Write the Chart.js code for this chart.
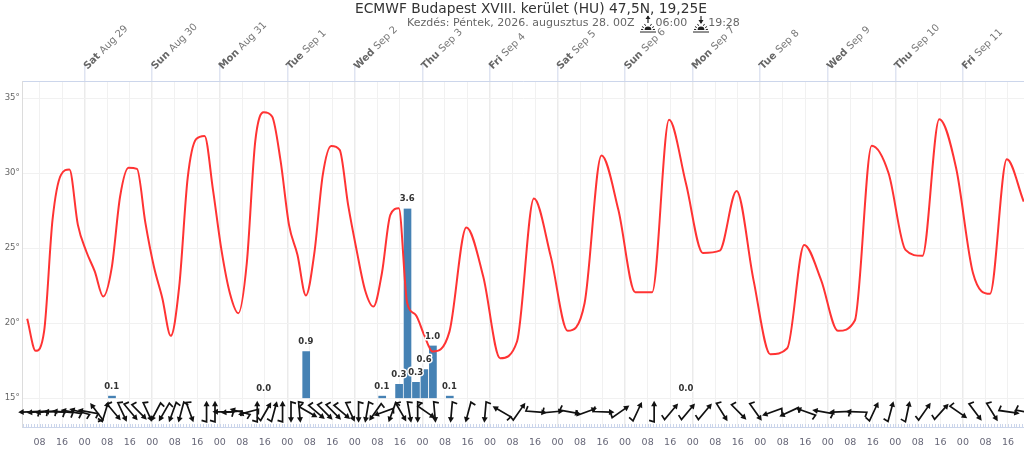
<!DOCTYPE html>
<html><head><meta charset="utf-8">
<style>html,body{margin:0;padding:0;background:#fff;overflow:hidden}canvas{display:block}</style>
<script src="https://cdn.jsdelivr.net/npm/chart.js@4/dist/chart.umd.min.js"></script>
</head><body><canvas id="c" width="1024" height="454"></canvas>
<script>
const titleText = "ECMWF Budapest XVIII. kerület (HU) 47,5N, 19,25E";
const subtitleText = "Kezdés: Péntek, 2026. augusztus 28. 00Z      06:00      19:28";
// hours relative to Sat Aug 29 00:00 local
const tempHours = [-20.4,-17.4,-14.4,-11.4,-8.4,-5.4,-2.4,0.6,3.6,6.6,9.6,12.6,15.6,18.6,21.6,24.6,27.6,30.6,33.6,36.6,39.6,42.6,45.6,48.6,51.6,54.6,57.6,60.6,63.6,66.6,69.6,72.6,75.6,78.6,81.6,84.6,87.6,90.6,93.6,96.6,99.6,102.6,105.6,108.6,111.6,114.6,117.6,120.6,123.6,
129.6,135.6,141.6,147.6,153.6,159.6,165.6,171.6,177.6,183.6,189.6,195.6,201.6,207.6,213.6,219.6,225.6,231.6,237.6,243.6,249.6,255.6,261.6,267.6,273.6,279.6,285.6,291.6,297.6,303.6,309.6,315.6,321.6,327.6,333.6];
const temps = [20.29,18.16,19.45,26.9,29.89,30.25,26.56,24.78,23.45,21.78,23.67,28.45,30.36,30.29,26.67,23.78,21.67,19.16,22.45,29.67,32.27,32.49,28.89,24.89,22.0,20.67,24.0,32.11,34.07,33.78,30.84,26.56,24.56,21.85,24.67,29.89,31.82,31.56,27.89,24.89,22.22,21.11,23.33,27.22,27.67,21.33,20.56,19.22,18.11,
19.44,26.38,23.11,17.67,18.78,28.31,24.44,19.49,21.33,31.18,27.56,22.07,22.07,33.56,29.33,24.69,24.84,28.82,22.89,17.93,18.33,25.22,22.89,19.49,20.18,31.84,30.0,24.89,24.49,33.6,30.33,23.33,21.96,30.93,28.11];
const rainHours = [9.6,63.6,78.6,105.6,111.6,114.6,117.6,120.6,123.6,129.6,213.6];
const rainMm = [0.05,0.0,0.89,0.05,0.27,3.6,0.31,0.55,1.0,0.05,0.0];
// direction each arrow points, degrees clockwise from north; null = no arrow drawn
const windHeading = [268,265,265,272,275,280,285,280,323,17,140,155,140,135,155,208,210,200,195,160,null,0,0,270,265,285,255,0,30,15,0,180,175,120,130,135,135,130,155,180,190,215,250,200,150,170,180,125,175,
185,195,185,300,35,95,85,100,70,92,55,25,0,40,40,40,148,135,145,250,245,290,280,268,272,25,15,12,35,42,125,143,148,98,100];
const windLevel = 14.09;
const dayHours = [0,24,48,72,96,120,144,168,192,216,240,264,288,312];
const dayNames = ["Sat","Sun","Mon","Tue","Wed","Thu","Fri","Sat","Sun","Mon","Tue","Wed","Thu","Fri"];
const dayDates = ["Aug 29","Aug 30","Aug 31","Sep 1","Sep 2","Sep 3","Sep 4","Sep 5","Sep 6","Sep 7","Sep 8","Sep 9","Sep 10","Sep 11"];
const FONT = '"DejaVu Sans"';
const AXIS = '#ccd6eb';

function sunIcon(ctx,cx,up){
  ctx.save();ctx.strokeStyle='#222';ctx.fillStyle='#222';ctx.lineWidth=1;
  ctx.beginPath();ctx.moveTo(cx-8,32);ctx.lineTo(cx+8,32);ctx.stroke();
  ctx.beginPath();ctx.arc(cx,30,3.4,Math.PI,0);ctx.fill();
  [-60,-30,30,60,-85,85].forEach(a=>{const r=a*Math.PI/180;ctx.beginPath();
    ctx.moveTo(cx+Math.sin(r)*4.8,30-Math.cos(r)*4.8);ctx.lineTo(cx+Math.sin(r)*7,30-Math.cos(r)*7);ctx.stroke();});
  ctx.lineWidth=1.2;ctx.beginPath();ctx.moveTo(cx,16);ctx.lineTo(cx,23);ctx.stroke();
  ctx.beginPath();
  if(up){ctx.moveTo(cx,15.5);ctx.lineTo(cx-2.5,19);ctx.lineTo(cx+2.5,19);}
  else{ctx.moveTo(cx,24);ctx.lineTo(cx-2.5,20);ctx.lineTo(cx+2.5,20);}
  ctx.fill();ctx.restore();
}
const deco = {
  id:'deco',
  afterLayout(chart){
    chart.boxes.forEach(b=>{
      if(b.options && b.options.text===titleText){b.left=355;b.right=707;b.top=1;}
      if(b.options && b.options.text===subtitleText){b.left=407;b.right=760;b.top=17;}
    });
  },
  afterDatasetsDraw(chart){
    const ctx=chart.ctx,x=chart.scales.x,y=chart.scales.y,y2=chart.scales.y2,a=chart.chartArea;
    // minor hour ticks
    ctx.save();ctx.strokeStyle=AXIS;ctx.lineWidth=1;
    ctx.beginPath();ctx.moveTo(a.left,a.bottom+.5);ctx.lineTo(a.right,a.bottom+.5);ctx.stroke();
    for(let h=-22;h<=334;h++){const p=Math.round(x.getPixelForValue(h))+.5;ctx.beginPath();ctx.moveTo(p,a.bottom-3);ctx.lineTo(p,a.bottom);ctx.stroke();}
    ctx.restore();
    // day labels
    ctx.save();
    dayHours.forEach((h,i)=>{
      const px=x.getPixelForValue(h);
      ctx.save();ctx.translate(px+1,68);ctx.rotate(-Math.PI/4);ctx.textAlign='left';ctx.textBaseline='middle';
      ctx.font='bold 10px '+FONT;ctx.fillStyle='#666';ctx.fillText(dayNames[i],0,0);
      const w=ctx.measureText(dayNames[i]+' ').width;
      ctx.font='10px '+FONT;ctx.fillStyle='#777';ctx.fillText(dayDates[i],w,0);
      ctx.restore();
    });
    ctx.restore();
    // rain labels
    ctx.save();ctx.font='bold 8.5px '+FONT;ctx.textAlign='center';ctx.textBaseline='bottom';ctx.lineJoin='round';
    rainHours.forEach((h,i)=>{
      const px=x.getPixelForValue(h),py=y2.getPixelForValue(rainMm[i])-5,s=rainMm[i].toFixed(1);
      ctx.lineWidth=3;ctx.strokeStyle='#fff';ctx.strokeText(s,px,py);ctx.fillStyle='#333';ctx.fillText(s,px,py);
    });
    ctx.restore();
    // wind arrows
    ctx.save();ctx.beginPath();ctx.rect(0,0,1024,454);ctx.clip();
    ctx.strokeStyle='#111';ctx.fillStyle='#111';ctx.lineWidth=1.7;
    windHeading.forEach((d,i)=>{
      if(d===null)return;
      const px=x.getPixelForValue(tempHours[i])+2,py=y.getPixelForValue(windLevel);
      ctx.save();ctx.translate(px,py);ctx.rotate(d*Math.PI/180);
      ctx.beginPath();ctx.moveTo(0,-7);ctx.lineTo(0,10);ctx.lineTo(-5,8.5);ctx.stroke();
      ctx.beginPath();ctx.moveTo(0,-11);ctx.lineTo(-3,-5.5);ctx.lineTo(3,-5.5);ctx.closePath();ctx.fill();
      ctx.restore();
    });
    ctx.restore();
    sunIcon(ctx,648,true);sunIcon(ctx,701,false);
  }
};
new Chart(document.getElementById('c'),{
  type:'bar',
  plugins:[deco],
  data:{datasets:[
    {type:'line',label:'Temperature',data:tempHours.map((h,i)=>({x:h,y:temps[i]})),yAxisID:'y',xAxisID:'x',
     borderColor:'#ff3333',borderWidth:2,pointRadius:0,cubicInterpolationMode:'monotone',order:0},
    {type:'bar',label:'Precipitation',data:rainHours.map((h,i)=>({x:h,y:rainMm[i]})),yAxisID:'y2',xAxisID:'x',
     backgroundColor:'#4682b4',borderColor:'rgba(255,255,255,.45)',borderWidth:{left:1,right:0,top:0,bottom:0},barThickness:8.4,order:1}
  ]},
  options:{
    responsive:false,animation:false,devicePixelRatio:1,
    layout:{padding:0,autoPadding:false},
    events:[],
    plugins:{legend:{display:false},tooltip:{enabled:false},
      title:{display:true,text:titleText,align:'start',color:'#333',font:{family:FONT,size:14,weight:'normal'},padding:0},
      subtitle:{display:true,text:subtitleText,align:'start',color:'#666',font:{family:FONT,size:11,weight:'normal'},padding:0}
    },
    scales:{
      x:{type:'linear',position:'bottom',offset:false,min:-22,max:333.7,
        afterFit(s){s.height=27;},
        border:{display:false},
        grid:{offset:false,drawTicks:false,color:c=>(((c.tick&&c.tick.value)%24+24)%24===0)?'#ebebeb':'#f1f1f1',lineWidth:c=>(((c.tick&&c.tick.value)%24+24)%24===0)?1.5:1},
        ticks:{stepSize:8,includeBounds:false,autoSkip:false,maxRotation:0,padding:10,color:'#667',font:{family:FONT,size:9.5},
          callback:v=>String(((v%24)+24)%24).padStart(2,'0')}},
      xTop:{type:'linear',position:'top',offset:false,min:-22,max:333.7,
        afterFit(s){s.height=81-16.8-13.2;},
        border:{display:true,color:AXIS,width:1},
        grid:{offset:false,drawOnChartArea:false,drawTicks:true,tickLength:17,color:'#dfe4f1',lineWidth:1.5},
        ticks:{stepSize:24,includeBounds:false,autoSkip:false,maxRotation:0,padding:0,callback:()=>''}},
      y:{position:'left',min:13.08,max:36.15,
        afterFit(s){s.width=22.7;},
        border:{display:true,color:'#dcdcdc',width:1},
        grid:{drawTicks:false,color:'#f1f1f1',lineWidth:1},
        ticks:{stepSize:5,includeBounds:false,padding:3,color:'#666',font:{family:FONT,size:8.5},callback:v=>v+'°'}},
      y2:{display:false,min:-0.545,max:6.02}
    }
  }
});
</script></body></html>
